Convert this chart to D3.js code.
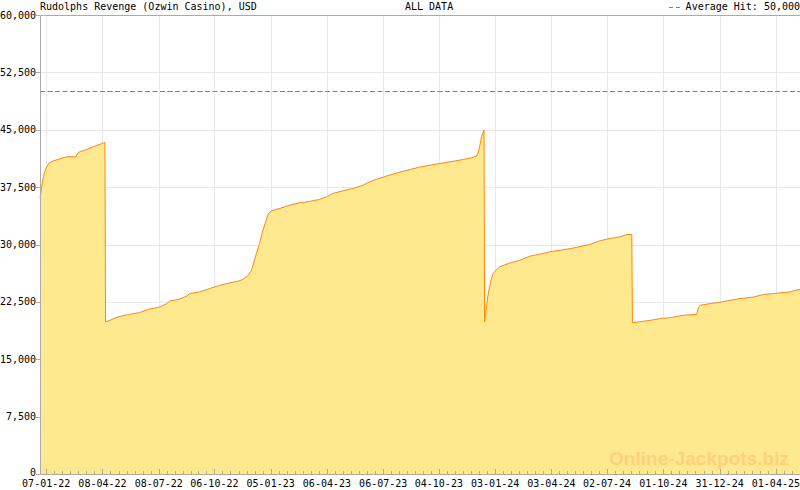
<!DOCTYPE html>
<html>
<head>
<meta charset="utf-8">
<script src="https://cdn.jsdelivr.net/npm/d3@7"></script>
<style>
  body { margin: 0; background: #fff; }
  text { font-family: "DejaVu Sans Mono", monospace; font-size: 10px; fill: #000; }
</style>
</head>
<body>
<div id="chart"></div>
<script>
// jackpot amount over time (dd-mm-yy, USD)
const dates = [
  "28-12-21", "30-12-21", "01-01-22", "04-01-22", "08-01-22", "12-01-22", "18-01-22", "26-01-22",
  "09-02-22", "24-02-22", "28-02-22", "11-03-22", "24-03-22", "04-04-22", "12-04-22",
  "13-04-22", "20-04-22", "03-05-22", "22-05-22", "07-06-22", "21-06-22", "10-07-22", "21-07-22",
  "26-07-22", "08-08-22", "22-08-22", "27-08-22", "12-09-22", "28-09-22", "15-10-22", "31-10-22",
  "13-11-22", "21-11-22", "30-11-22", "05-12-22", "09-12-22", "13-12-22", "18-12-22", "22-12-22",
  "27-12-22", "01-01-23", "06-01-23", "20-01-23", "05-02-23", "21-02-23", "09-03-23", "25-03-23",
  "05-04-23", "16-04-23", "02-05-23", "18-05-23", "04-06-23", "14-06-23", "25-06-23", "11-07-23",
  "02-08-23", "03-09-23", "06-10-23", "17-10-23", "30-10-23", "13-11-23", "26-11-23", "04-12-23",
  "07-12-23", "10-12-23", "12-12-23", "16-12-23",
  "17-12-23", "20-12-23", "22-12-23", "25-12-23", "28-12-23", "31-12-23", "02-01-24", "10-01-24",
  "27-01-24", "12-02-24", "28-02-24", "15-03-24", "31-03-24", "03-05-24", "04-06-24", "21-06-24",
  "07-07-24", "23-07-24", "03-08-24", "11-08-24",
  "12-08-24", "22-08-24", "10-09-24", "26-09-24", "12-10-24", "03-11-24", "24-11-24", "27-11-24",
  "30-11-24", "16-12-24", "01-01-25", "17-01-25", "02-02-25", "24-02-25", "12-03-25", "28-03-25",
  "24-04-25", "02-05-25", "10-05-25"
];
const amounts = [
  36060, 37110, 38200, 39340, 40160, 40680, 40910, 41130,
  41470, 41470, 42050, 42350, 42780, 43090, 43350,
  19870, 20090, 20530, 20880, 21100, 21530, 21830, 22280,
  22620, 22800, 23240, 23590, 23800, 24240, 24670, 24980,
  25200, 25420, 25980, 26640, 27720, 28820, 30130, 31440,
  32750, 33970, 34400, 34720, 35150, 35450, 35630, 35890,
  36230, 36680, 37020, 37330, 37770, 38200, 38510, 38940,
  39470, 40120, 40600, 40740, 40910, 41130, 41340, 41560,
  42120, 43220, 44090, 44960,
  19870, 21830, 23140, 24450, 25550, 26210, 26420, 27070,
  27590, 27950, 28470, 28730, 29050, 29450, 30000, 30500,
  30790, 31000, 31310, 31310,
  19790, 19870, 20090, 20310, 20440, 20750, 20880, 21830,
  22060, 22280, 22450, 22710, 22930, 23140, 23460, 23590,
  23800, 24020, 24150
];
const averageHit = 50000;
const yTicks = [0, 7500, 15000, 22500, 30000, 37500, 45000, 52500, 60000];
const xTickLabels = [
  "07-01-22", "08-04-22", "08-07-22", "06-10-22", "05-01-23", "06-04-23", "06-07-23",
  "04-10-23", "03-01-24", "03-04-24", "02-07-24", "01-10-24", "31-12-24", "01-04-25"
];
const xDomain = ["28-12-21", "10-05-25"];
const title = "Rudolphs Revenge (Ozwin Casino), USD";
const period = "ALL DATA";

const width = 800, height = 490;
const plotLeft = 40, plotRight = 800, plotTop = 15, plotBottom = 474;
const parse = d3.timeParse("%d-%m-%y");
const fmt = d3.format(",");

const data = dates.map((d, i) => ({ date: parse(d), value: amounts[i] }));

const x = d3.scaleTime().domain(xDomain.map(parse)).range([plotLeft, plotRight]);
const y = d3.scaleLinear().domain([0, 60000]).range([plotBottom, plotTop]);

const svg = d3.select("#chart").append("svg")
  .attr("width", width)
  .attr("height", height);

// grid
const majorDates = xTickLabels.map(parse);
svg.append("g").selectAll("line")
  .data(yTicks.filter(v => v > 0))
  .enter().append("line")
  .attr("x1", plotLeft).attr("x2", plotRight)
  .attr("y1", d => Math.round(y(d)) + 0.5).attr("y2", d => Math.round(y(d)) + 0.5)
  .attr("stroke", "#e8e8e8");
svg.append("g").selectAll("line")
  .data(majorDates)
  .enter().append("line")
  .attr("x1", d => Math.round(x(d)) + 0.5).attr("x2", d => Math.round(x(d)) + 0.5)
  .attr("y1", plotTop).attr("y2", plotBottom)
  .attr("stroke", "#e8e8e8");

// area + line
const area = d3.area()
  .x(d => x(d.date))
  .y0(y(0))
  .y1(d => y(d.value));
const line = d3.line()
  .x(d => x(d.date))
  .y(d => y(d.value));

svg.append("path")
  .datum(data)
  .attr("d", area)
  .attr("fill", "#ffe98f");

// watermark
svg.append("text")
  .attr("x", 609)
  .attr("y", 465)
  .attr("textLength", 180)
  .attr("lengthAdjust", "spacingAndGlyphs")
  .style("font-family", "'Liberation Sans', Arial, sans-serif")
  .style("font-weight", "bold")
  .style("font-size", "19px")
  .style("fill", "#ffd07a")
  .text("Online-Jackpots.biz");

svg.append("path")
  .datum(data)
  .attr("d", line)
  .attr("fill", "none")
  .attr("stroke", "#ff8a00")
  .attr("stroke-width", 1);

// average hit
svg.append("line")
  .attr("x1", plotLeft).attr("x2", plotRight)
  .attr("y1", Math.round(y(averageHit)) + 0.5).attr("y2", Math.round(y(averageHit)) + 0.5)
  .attr("stroke", "#4a90bd")
  .attr("stroke-dasharray", "5,2.5");

// frame
svg.append("path")
  .attr("d", `M${plotRight},${plotTop + 0.5}H${plotLeft + 0.5}V${plotBottom + 0.5}H${plotRight}`)
  .attr("fill", "none")
  .attr("stroke", "#aaa");

// y axis
const yAxis = svg.append("g");
yAxis.selectAll("line")
  .data(yTicks)
  .enter().append("line")
  .attr("x1", plotLeft - 4).attr("x2", plotLeft)
  .attr("y1", d => Math.round(y(d)) + 0.5).attr("y2", d => Math.round(y(d)) + 0.5)
  .attr("stroke", "#aaa");
yAxis.selectAll("text")
  .data(yTicks)
  .enter().append("text")
  .attr("x", plotLeft - 4)
  .attr("y", d => d === 0 ? y(d) + 2 : y(d) + 3.5)
  .attr("text-anchor", "end")
  .text(d => fmt(d));

// x axis ticks (major + 7 subdivisions)
const majorX = majorDates.map(d => x(d));
const step = (majorX[majorX.length - 1] - majorX[0]) / ((majorX.length - 1) * 7);
const minorX = [];
for (let i = 0; i < majorX.length - 1; i++) {
  for (let k = 1; k < 7; k++) minorX.push(majorX[i] + (majorX[i + 1] - majorX[i]) * k / 7);
}
for (let p = majorX[majorX.length - 1] + step; p < plotRight; p += step) minorX.push(p);

const xAxis = svg.append("g");
xAxis.selectAll("line.minor")
  .data(minorX)
  .enter().append("line")
  .attr("class", "minor")
  .attr("x1", d => Math.round(d) + 0.5).attr("x2", d => Math.round(d) + 0.5)
  .attr("y1", plotBottom - 3).attr("y2", plotBottom)
  .attr("stroke", "#aaa");
xAxis.selectAll("line.major")
  .data(majorX)
  .enter().append("line")
  .attr("class", "major")
  .attr("x1", d => Math.round(d) + 0.5).attr("x2", d => Math.round(d) + 0.5)
  .attr("y1", plotBottom - 5).attr("y2", plotBottom)
  .attr("stroke", "#aaa");
xAxis.selectAll("text")
  .data(xTickLabels)
  .enter().append("text")
  .attr("x", (d, i) => majorX[i])
  .attr("y", 486.5)
  .attr("text-anchor", "middle")
  .text(d => d);

// header
svg.append("text").attr("x", plotLeft).attr("y", 10).text(title);
svg.append("text").attr("x", 405).attr("y", 10).text(period);
svg.append("line")
  .attr("x1", 669).attr("x2", 683)
  .attr("y1", 7.5).attr("y2", 7.5)
  .attr("stroke", "#4a90bd")
  .attr("stroke-dasharray", "4,3");
svg.append("text")
  .attr("x", 800)
  .attr("y", 10)
  .attr("text-anchor", "end")
  .text("Average Hit: " + fmt(averageHit));
</script>
</body>
</html>
